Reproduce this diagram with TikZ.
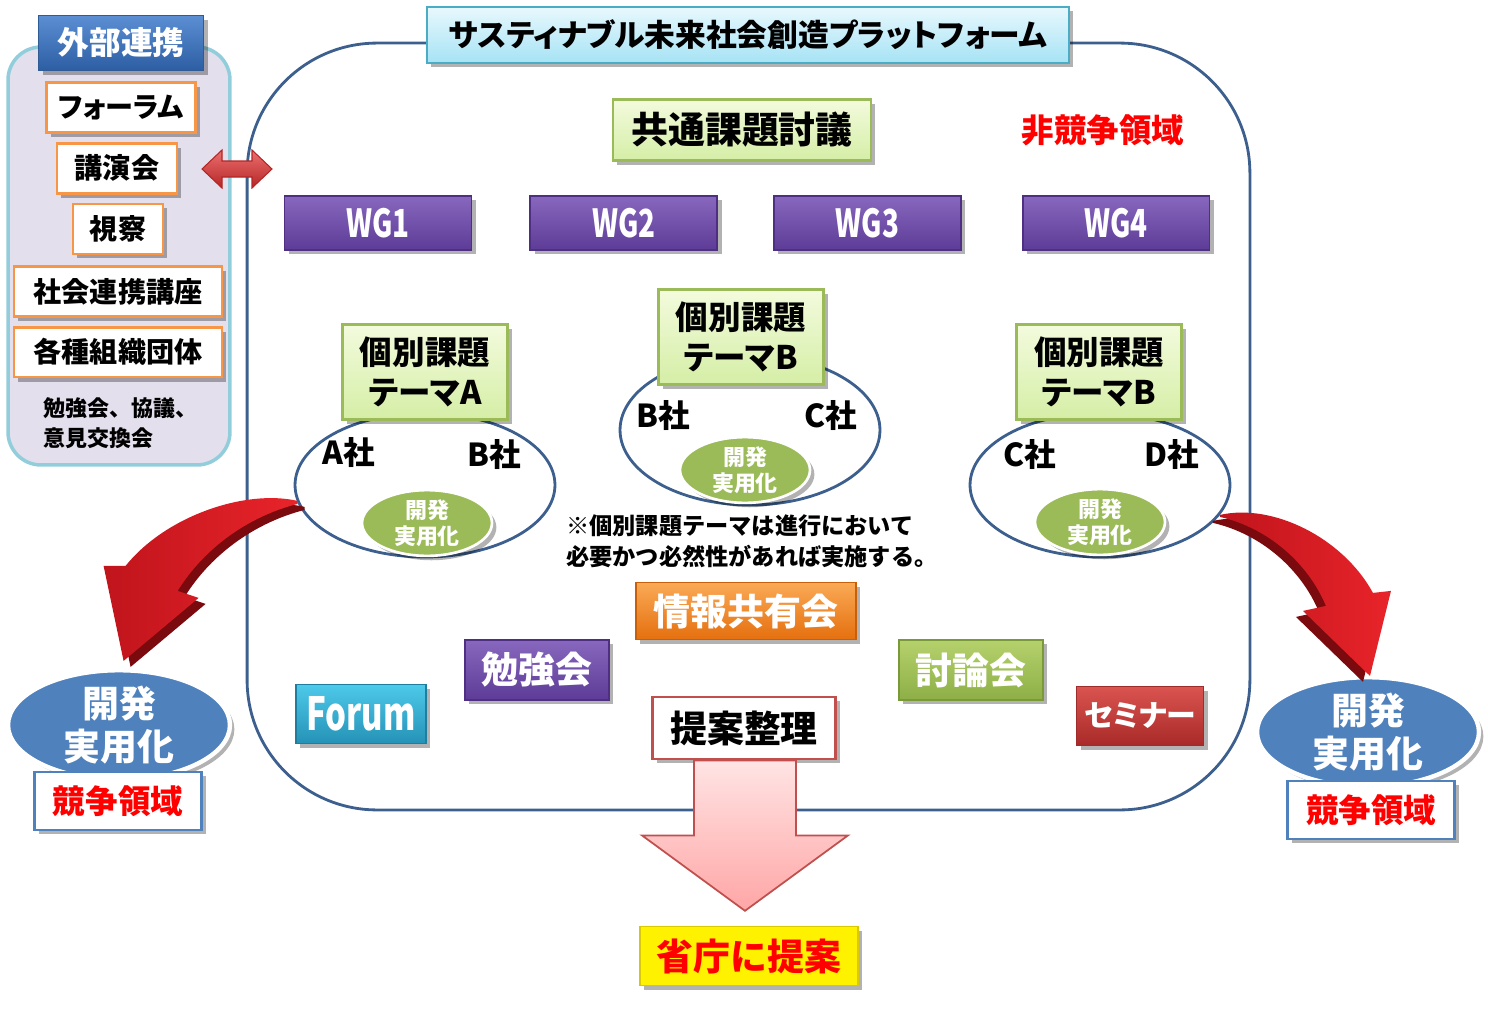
\documentclass[tikz,border=0pt]{standalone}
\usepackage{fontspec}
\setmainfont{Noto Sans CJK JP}
\newfontfamily\paltfont{Noto Sans CJK JP}[RawFeature=+palt]
\newfontfamily\condfont{Noto Sans CJK JP}[FakeStretch=0.72]
\usetikzlibrary{positioning,shapes.geometric,shadows,calc}

\definecolor{framecol}{HTML}{3C5F8E}
\definecolor{titleline}{HTML}{4BACC6}
\definecolor{titletop}{HTML}{E8F8FD}
\definecolor{titlebot}{HTML}{A6E3F5}
\definecolor{panelline}{HTML}{92CDDC}
\definecolor{panelfill}{HTML}{E4DFEC}
\definecolor{headline}{HTML}{2F5C95}
\definecolor{headtop}{HTML}{5B8ED3}
\definecolor{headbot}{HTML}{2D5EA3}
\definecolor{orgline}{HTML}{F79646}
\definecolor{themeline}{HTML}{9BBB59}
\definecolor{themetop}{HTML}{F3FBDD}
\definecolor{themebot}{HTML}{D5EEA6}
\definecolor{wgline}{HTML}{4F2F82}
\definecolor{wgtop}{HTML}{8867BE}
\definecolor{wgbot}{HTML}{5D3C97}
\definecolor{devgreen}{HTML}{9BBB59}
\definecolor{devblue}{HTML}{4F81BD}
\definecolor{orgtop}{HTML}{FAAA55}
\definecolor{orgbot}{HTML}{E56F0F}
\definecolor{orgdark}{HTML}{C8600A}
\definecolor{greentop}{HTML}{B5D16D}
\definecolor{greenbot}{HTML}{8DAF46}
\definecolor{greenline}{HTML}{7A9A3A}
\definecolor{cyantop}{HTML}{4DC9EA}
\definecolor{cyanbot}{HTML}{2592B6}
\definecolor{cyanline}{HTML}{1F7E9E}
\definecolor{redtop}{HTML}{DA5450}
\definecolor{redbot}{HTML}{A82A28}
\definecolor{seminarline}{HTML}{9E2C2A}
\definecolor{redline}{HTML}{C0504D}
\definecolor{pinktop}{HTML}{FFE4E4}
\definecolor{pinkbot}{HTML}{FFA6A6}
\definecolor{yellowline}{HTML}{D9C900}
\definecolor{arrowlt}{HTML}{C0141C}
\definecolor{arrowrt}{HTML}{E8242A}
\definecolor{arrowdark}{HTML}{7A0A0E}
\definecolor{linktop}{HTML}{EC7070}
\definecolor{linkbot}{HTML}{B52525}

\newcommand{\jpsize}[2]{\fontsize{#1}{#2}\selectfont\bfseries}

\begin{document}
\begin{tikzpicture}[x=0.02cm, y=-0.02cm,
  every node/.style={inner sep=0pt, align=center},
  shadowed/.style={drop shadow={shadow xshift=2.5pt, shadow yshift=-2.5pt, opacity=0.3, fill=black}},
  orgbox/.style={draw=orgline, line width=1.5pt, fill=white, minimum height=1cm, font=\jpsize{16pt}{18pt}, shadowed},
  themebox/.style={draw=themeline, line width=1.2pt, top color=themetop, bottom color=themebot, minimum width=3.3cm, minimum height=1.9cm, font=\paltfont\jpsize{18.5pt}{22.5pt}, shadowed},
  wgbox/.style={draw=wgline, line width=1pt, top color=wgtop, bottom color=wgbot, text=white, minimum width=3.74cm, minimum height=1.08cm, font=\condfont\jpsize{22pt}{26pt}, shadowed},
  group/.style={ellipse, draw=framecol, line width=1.6pt, minimum width=5.2cm, minimum height=2.88cm},
  company/.style={font=\jpsize{18pt}{20pt}},
  devsmall/.style={ellipse, fill=devgreen, draw=white, line width=1.5pt, text=white, minimum width=2.6cm, minimum height=1.16cm, font=\jpsize{12.5pt}{14.5pt}, shadowed},
  devbig/.style={ellipse, fill=devblue, draw=white, line width=2.5pt, text=white, minimum width=4.44cm, minimum height=2.08cm, font=\jpsize{21pt}{24pt}, shadowed},
  kyosobox/.style={draw=devblue, line width=1.6pt, fill=white, text=red, minimum width=3.34cm, minimum height=1.16cm, font=\jpsize{18.5pt}{20pt}, shadowed},
  meet/.style={text=white, line width=0.8pt, minimum height=1.2cm, font=\jpsize{21pt}{24pt}, shadowed},
  bendarrow/.style={left color=arrowlt, right color=arrowrt},
  linkarrow/.style={draw=linkbot, line width=0.6pt, top color=linktop, bottom color=linkbot}
]
\useasboundingbox (0,0) rectangle (1488,1014);

% external partners
\node (gaibu) [draw=panelline, line width=2pt, fill=panelfill, rounded corners=0.66cm, minimum width=4.44cm, minimum height=8.36cm] at (119,256) {};
\node (head) [draw=headline, line width=1pt, top color=headtop, bottom color=headbot, text=white, minimum width=3.3cm, minimum height=1.1cm, font=\jpsize{18pt}{20pt}, shadowed] at (121,43) {外部連携};
\node (fo) [orgbox, minimum width=2.98cm, below=0.2cm of head, font=\paltfont\jpsize{16pt}{18pt}] {フォーラム};
\node (ko) [orgbox, minimum width=2.4cm, below=0.16cm of fo, xshift=-0.08cm] {講演会};
\node (shi) [orgbox, minimum width=1.8cm, below=0.16cm of ko, xshift=0.02cm] {視察};
\node (sha) [orgbox, minimum width=4.16cm, below=0.2cm of shi] {社会連携講座};
\node (kak) [orgbox, minimum width=4.16cm, below=0.16cm of sha] {各種組織団体};
\node (iken) [anchor=north west, align=left, font=\jpsize{12.5pt}{17pt}] at (43,397) {勉強会、協議、\\意見交換会};

% platform frame
\node (platform) [draw=framecol, line width=1.6pt, rounded corners=2.6cm, minimum width=20.06cm, minimum height=15.34cm] at (748.5,426.5) {};
\node (title) [draw=titleline, line width=1.2pt, top color=titletop, bottom color=titlebot, minimum width=12.84cm, minimum height=1.12cm, font=\paltfont\jpsize{17.5pt}{19pt}, shadowed] at (748,35) {サスティナブル未来社会創造プラットフォーム};

\begin{scope}[shift={(237,169)}]
  \path [linkarrow] (-35,0) -- (-15,-19) -- (-15,-8) -- (15,-8) -- (15,-19) -- (35,0) -- (15,19) -- (15,8) -- (-15,8) -- (-15,19) -- cycle;
\end{scope}

\node (kyotsu) [themebox, minimum width=5.16cm, minimum height=1.22cm, font=\jpsize{21pt}{24pt}] at (742,130) {共通課題討議};
\node (hikyoso) [text=red, font=\jpsize{18.5pt}{20pt}] at (1103,130) {非競争領域};

\node (wg1) [wgbox] at (378,223) {WG1};
\node (wg2) [wgbox, right=1.14cm of wg1] {WG2};
\node (wg3) [wgbox, right=1.1cm of wg2] {WG3};
\node (wg4) [wgbox, right=1.2cm of wg3] {WG4};

% individual themes
\node (ga) [group] at (425,485) {};
\node (gb) [group, minimum height=3cm] at (750,430) {};
\node (gc) [group] at (1100,485) {};
\node (themeA) [themebox] at (425,372) {個別課題\\テーマA};
\node (themeB) [themebox] at (741,337) {個別課題\\テーマB};
\node (themeC) [themebox] at (1099,372) {個別課題\\テーマB};
\node (ca1) [company] at (349,453) {A社};
\node (ca2) [company] at (494,455) {B社};
\node (cb1) [company] at (663,416) {B社};
\node (cb2) [company] at (831,416) {C社};
\node (cc1) [company] at (1030,455) {C社};
\node (cc2) [company] at (1172,455) {D社};
\node (devA) [devsmall] at (427,523) {開発\\実用化};
\node (devB) [devsmall, minimum height=1.2cm] at (745,470) {開発\\実用化};
\node (devC) [devsmall] at (1100,522) {開発\\実用化};
\node (note) [anchor=west, align=left, font=\jpsize{13.2pt}{17.6pt}] at (566,541) {※個別課題テーマは進行において\\必要かつ必然性があれば実施する。};

% meetings
\node (jyoho) [meet, top color=orgtop, bottom color=orgbot, draw=orgdark, minimum width=4.4cm, minimum height=1.14cm] at (746,611) {情報共有会};
\node (benkyo) [meet, top color=wgtop, bottom color=wgbot, draw=wgline, minimum width=2.88cm] at (537,670) {勉強会};
\node (toron) [meet, top color=greentop, bottom color=greenbot, draw=greenline, minimum width=2.88cm] at (971,670) {討論会};
\node (forum) [meet, top color=cyantop, bottom color=cyanbot, draw=cyanline, minimum width=2.6cm, minimum height=1.18cm, font=\condfont\jpsize{26pt}{28pt}] at (361,714) {Forum};
\node (seminar) [meet, top color=redtop, bottom color=redbot, draw=seminarline, minimum width=2.54cm, minimum height=1.18cm, font=\paltfont\jpsize{17pt}{18pt}] at (1140,716) {セミナー};

% proposal
\node (seiri) [draw=redline, line width=1.6pt, fill=white, minimum width=3.66cm, minimum height=1.24cm, font=\jpsize{21pt}{24pt}, shadowed] at (744,728) {提案整理};
\node (teian) [draw=yellowline, line width=0.8pt, fill=yellow, text=red, minimum width=4.36cm, minimum height=1.18cm, font=\jpsize{21pt}{24pt}, shadowed] at (749,956) {省庁に提案};
\draw [draw=redline, line width=1pt, top color=pinktop, bottom color=pinkbot]
  ($(seiri.south)+(-50,0)$) -- ($(seiri.south)+(52,0)$) -- ($(seiri.south)+(52,75)$)
  -- ($(seiri.south)+(104,75)$) -- ($(teian.north)+(-4,-15)$)
  -- ($(seiri.south)+(-102,75)$) -- ($(seiri.south)+(-50,75)$) -- cycle;

% competitive area
\node (devL) [devbig] at (119,725) {開発\\実用化};
\node (kyosoL) [kyosobox] at (118,801) {競争領域};
\node (devR) [devbig] at (1368,732) {開発\\実用化};
\node (kyosoR) [kyosobox] at (1371,810) {競争領域};

\coordinate (tailL) at (ga.188);
\coordinate (tailR) at (gc.346);
\begin{scope}[shift={(tailL)}]
  \fill [arrowdark, shift={(7,6)}] (0,-2) .. controls (-52,-14) and (-132,13) .. (-172,63) -- (-194,63) -- (-174,158) -- (-99,95) -- (-120,88) .. controls (-92,43) and (-47,13) .. (0,1) -- cycle;
  \path [bendarrow] (0,-2) .. controls (-52,-14) and (-132,13) .. (-172,63) -- (-194,63) -- (-174,158) -- (-99,95) -- (-120,88) .. controls (-92,43) and (-47,13) .. (0,1) -- cycle;
\end{scope}
\begin{scope}[shift={(tailR)}]
  \fill [arrowdark, shift={(-7,6)}] (0,0) .. controls (53,-12) and (123,23) .. (153,78) -- (171,76) -- (150,161) -- (83,96) -- (106,91) .. controls (88,48) and (48,13) .. (0,2) -- cycle;
  \path [bendarrow] (0,0) .. controls (53,-12) and (123,23) .. (153,78) -- (171,76) -- (150,161) -- (83,96) -- (106,91) .. controls (88,48) and (48,13) .. (0,2) -- cycle;
\end{scope}
\end{tikzpicture}
\end{document}
